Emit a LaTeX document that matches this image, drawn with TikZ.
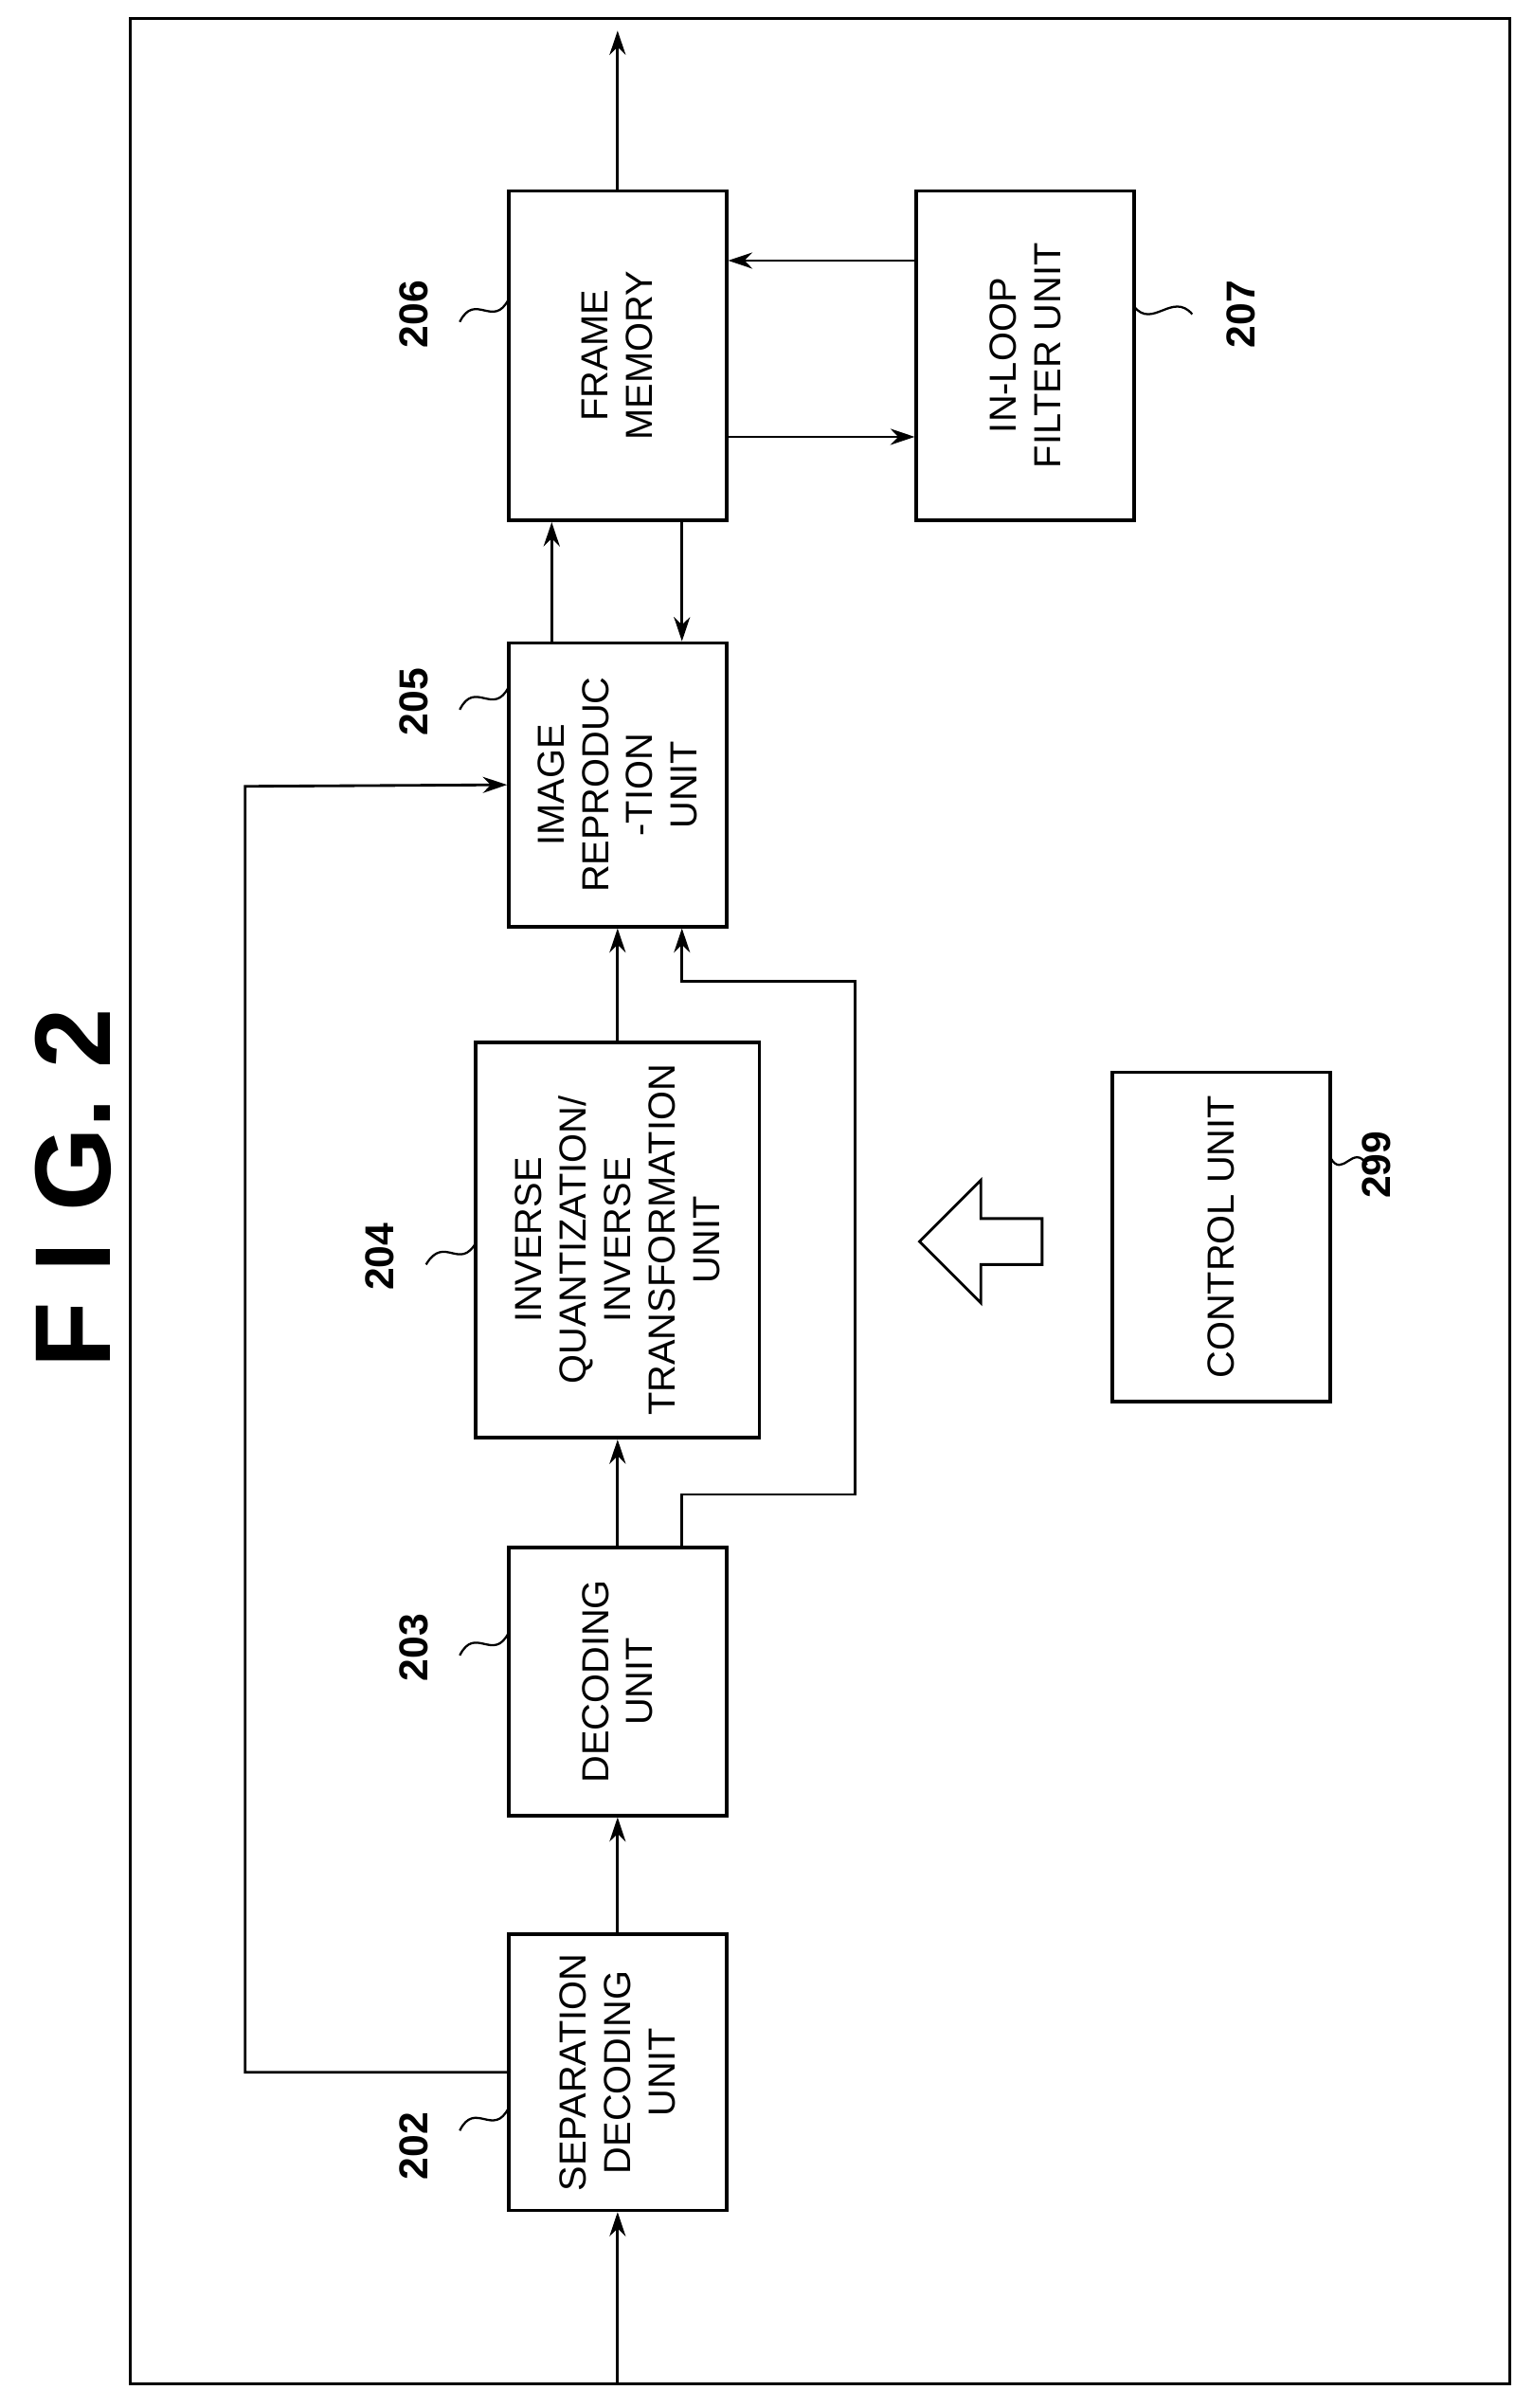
\documentclass[tikz,border=0pt]{standalone}
\usepackage{fontspec}
\setmainfont{Liberation Sans}
\usetikzlibrary{calc,arrows.meta}
\begin{document}
\begin{tikzpicture}[x=0.02cm,y=-0.02cm,
  box/.style={draw,line width=1.3pt,inner sep=0pt},
  txt/.style={rotate=90,align=center,font=\fontsize{14}{16.5}\selectfont},
  num/.style={rotate=90,font=\bfseries\fontsize{15}{17}\selectfont},
  arr/.style={line width=1pt,-{Stealth[length=9pt,width=6pt]}},
  ln/.style={line width=1pt},
  sq/.style={line width=0.8pt}]
\useasboundingbox (0,0) rectangle (1000,1571);
\draw[line width=1pt] (85,12) rectangle (985,1555);
\node[rotate=90,font=\bfseries\fontsize{40}{44}\selectfont] (title) at (48,775) {F I G. 2};
\node[box,minimum width=142*0.02cm,minimum height=180*0.02cm] (b202) at (403,1352) {};
\node[txt] at (b202) {SEPARATION\\DECODING\\UNIT};
\node[box,minimum width=142*0.02cm,minimum height=175*0.02cm] (b203) at (403,1097) {};
\node[txt] at (b203) {DECODING\\UNIT};
\node[box,minimum width=185*0.02cm,minimum height=258*0.02cm] (b204) at (403,809) {};
\node[txt] at (b204) {INVERSE\\QUANTIZATION/\\INVERSE\\TRANSFORMATION\\UNIT};
\node[box,minimum width=142*0.02cm,minimum height=185*0.02cm] (b205) at (403,512) {};
\node[txt] at (b205) {IMAGE\\REPRODUC\\-TION\\UNIT};
\node[box,minimum width=142*0.02cm,minimum height=215*0.02cm] (b206) at (403,232) {};
\node[txt] at (b206) {FRAME\\MEMORY};
\node[box,minimum width=142*0.02cm,minimum height=215*0.02cm] (b207) at (669,232) {};
\node[txt] at (b207) {IN-LOOP\\FILTER UNIT};
\node[box,minimum width=142*0.02cm,minimum height=215*0.02cm] (b299) at (797,807) {};
\node[txt] at (b299) {CONTROL UNIT};
% block arrow
\draw[line width=1pt] (600,810) -- (640,770) -- (640,795) -- (680,795) -- (680,825) -- (640,825) -- (640,850) -- cycle;
% connectors
\coordinate (in) at (403,1555);
\coordinate (out) at (403,20);
\draw[arr] (in) -- (b202.south);
\draw[arr] (b202.north) -- (b203.south);
\draw[arr] (b203.north) -- (b204.south);
\draw[arr] (b204.north) -- (b205.south);
\draw[arr] ($(b203.north)+(42,0)$) -- (445,975) -- (558,975) -- (558,640) -- (445,640) -- ($(b205.south)+(42,0)$);
\draw[arr] (b202.west) -- (160,1352) -- (160,513) -- (b205.west);
\draw[arr] ($(b205.north)+(-43,0)$) -- ($(b206.south)+(-43,0)$);
\draw[arr] ($(b206.south)+(42,0)$) -- ($(b205.north)+(42,0)$);
\draw[arr] ($(b206.east)+(0,53)$) -- ($(b207.west)+(0,53)$);
\draw[arr] ($(b207.west)+(0,-62)$) -- ($(b206.east)+(0,-62)$);
\draw[arr] (b206.north) -- (out);
% labels
\node[num] (l202) at (270,1400) {202};
\draw[sq] (300,1390) .. controls (310,1370) and (322,1395) .. (332,1375);
\node[num] (l203) at (270,1075) {203};
\draw[sq] (300,1080) .. controls (310,1060) and (322,1085) .. (332,1065);
\node[num] (l204) at (248,820) {204};
\draw[sq] (278,825) .. controls (290,805) and (300,830) .. (311,810);
\node[num] (l205) at (270,458) {205};
\draw[sq] (300,463) .. controls (310,443) and (322,468) .. (332,448);
\node[num] (l206) at (270,205) {206};
\draw[sq] (300,210) .. controls (310,190) and (322,215) .. (332,195);
\node[num] (l207) at (810,205) {207};
\draw[sq] (740,200) .. controls (752,215) and (765,190) .. (778,205);
\node[num] (l299) at (898,760) {299};
\draw[sq] (868,755) .. controls (876,770) and (883,745) .. (892,760);
\end{tikzpicture}
\end{document}
